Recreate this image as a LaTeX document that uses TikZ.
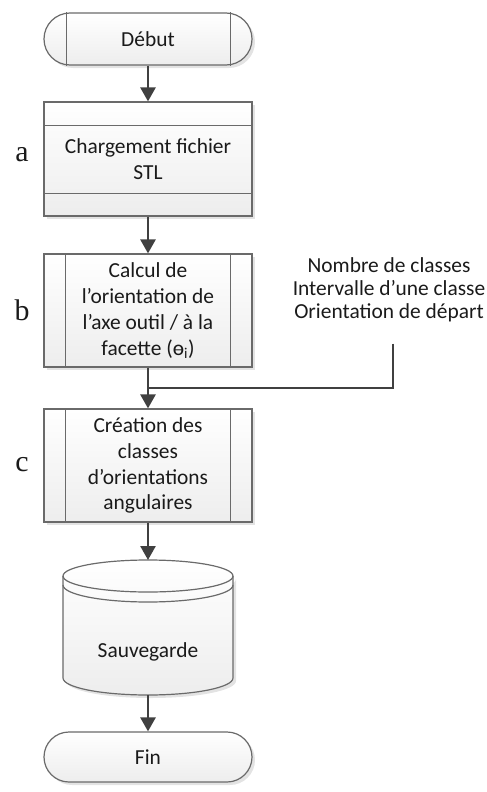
\documentclass[tikz,border=0pt]{standalone}
\usepackage{fontspec}
\setmainfont{Carlito}
\newfontfamily\labelfont{Liberation Serif}
\usetikzlibrary{arrows.meta,shadows}
\definecolor{edge}{HTML}{6A6A6A}
\definecolor{flow}{HTML}{404040}
\definecolor{ink}{HTML}{1A1A1A}
\tikzset{
  boxbase/.style={draw=edge, line width=1.2bp, top color=white, bottom color=black!7,
    drop shadow={shadow xshift=3bp, shadow yshift=-3bp, fill=black!18, opacity=0.6},
    text=ink, align=center, font=\fontsize{21.5}{26}\selectfont, inner sep=0pt},
  termbox/.style={boxbase, minimum width=208bp, minimum height=52bp, rounded corners=26bp},
  procbox/.style={boxbase, minimum width=208bp, minimum height=114bp},
  divider/.style={draw=edge, line width=1.2bp},
  flowline/.style={draw=flow, line width=2.6bp},
  flowarrow/.style={flowline, -{Triangle[length=14bp, width=15bp]}},
  steplabel/.style={font=\labelfont\fontsize{30}{32}\selectfont, text=ink},
  sidetext/.style={align=center, text=ink, font=\fontsize{21.5}{23}\selectfont}
}
\begin{document}
\begin{tikzpicture}[x=1bp, y=-1bp]
\useasboundingbox (0,0) rectangle (487,792);

% start terminator with inner bars
\node[termbox] (debut) at (148,39) {Début};
\draw[divider] ([xshift=23bp]debut.north west) -- ([xshift=23bp]debut.south west);
\draw[divider] ([xshift=-22bp]debut.north east) -- ([xshift=-22bp]debut.south east);

% load step: box with top and bottom bands
\node[procbox] (load) at (148,159) {Chargement fichier\\STL};
\draw[divider] ([yshift=-24bp]load.north west) -- ([yshift=-24bp]load.north east);
\draw[divider] ([yshift=23bp]load.south west) -- ([yshift=23bp]load.south east);

% orientation step: predefined process
\node[procbox, minimum height=113bp] (orient) at (148,310.5)
  {Calcul de\\l’orientation de\\l’axe outil / à la\\facette (ɵ\textsubscript{i})};
\draw[divider] ([xshift=22bp]orient.north west) -- ([xshift=22bp]orient.south west);
\draw[divider] ([xshift=-22bp]orient.north east) -- ([xshift=-22bp]orient.south east);

% class creation step: predefined process
\node[procbox, minimum height=113bp] (classes) at (148,465.5)
  {Création des\\classes\\d’orientations\\angulaires};
\draw[divider] ([xshift=22bp]classes.north west) -- ([xshift=22bp]classes.south west);
\draw[divider] ([xshift=-22bp]classes.north east) -- ([xshift=-22bp]classes.south east);

% storage cylinder
\coordinate (dbtop) at (148,560);
\coordinate (dbbot) at (148,695);
\fill[black!18, opacity=0.6] (66,579) arc[start angle=180, end angle=360, x radius=85bp, y radius=16bp]
  -- (236,681) arc[start angle=0, end angle=-180, x radius=85bp, y radius=17bp] -- cycle;
\path[draw=edge, line width=1.2bp, top color=white, bottom color=black!7]
  (63,576) arc[start angle=180, end angle=0, x radius=85bp, y radius=16bp]
  -- (233,678) arc[start angle=0, end angle=-180, x radius=85bp, y radius=17bp] -- cycle;
\draw[divider] (63,576) arc[start angle=180, end angle=360, x radius=85bp, y radius=16bp];
\draw[divider] (63,585) arc[start angle=180, end angle=360, x radius=85bp, y radius=17bp];
\node[text=ink, font=\fontsize{21.5}{26}\selectfont] (save) at (148,652) {Sauvegarde};

% end terminator
\node[termbox, minimum height=50bp, rounded corners=25bp] (fin) at (148,757) {Fin};

% external parameters
\node[sidetext] (params) at (389,290) {Nombre de classes\\Intervalle d’une classe\\Orientation de départ};
\coordinate (join) at (148,388);

% step labels
\node[steplabel] (la) at (22,155) {a};
\node[steplabel] (lb) at (22,310) {b};
\node[steplabel] (lc) at (22,465) {c};

% flow connectors
\draw[flowarrow] (debut.south) -- (load.north);
\draw[flowarrow] (load.south) -- (orient.north);
\draw[flowarrow] (orient.south) -- (classes.north);
\draw[flowline] ([xshift=4bp,yshift=-18bp]params.south) |- (join);
\draw[flowarrow] (classes.south) -- (dbtop);
\draw[flowarrow] (dbbot) -- (fin.north);
\end{tikzpicture}
\end{document}
